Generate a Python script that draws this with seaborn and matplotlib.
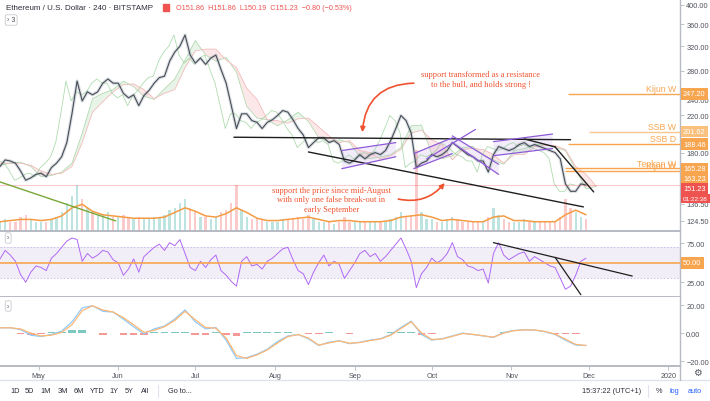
import numpy as np
import pandas as pd
import matplotlib
matplotlib.use('Agg')
import matplotlib.pyplot as plt
import matplotlib.dates as mdates
from matplotlib.ticker import FuncFormatter, NullLocator
from matplotlib.patches import Rectangle
import seaborn as sns

sns.set_theme(style='white')
plt.rcParams['font.family'] = ['Liberation Sans', 'DejaVu Sans']

# ETH/USD 4h (Bitstamp), one point every 2 days
dates = pd.date_range('2019-04-16', '2019-11-30', freq='2D')
close = [167, 173, 172, 170, 163, 155, 157, 160, 161, 158,
         166, 170, 176, 190, 222, 265, 238, 250, 246, 250,
         262, 268, 262, 262, 248, 242, 246, 232, 245, 252,
         262, 270, 272, 295, 310, 320, 340, 305, 292, 300,
         290, 300, 305, 282, 262, 232, 205, 222, 222, 214,
         212, 205, 212, 215, 220, 226, 224, 215, 205, 198,
         185, 190, 195, 195, 190, 192, 188, 172, 170, 173,
         178, 174, 178, 180, 178, 182, 192, 205, 220, 214,
         200, 166, 170, 172, 178, 176, 178, 182, 190, 186,
         182, 178, 176, 172, 172, 162, 178, 186, 184, 182,
         184, 188, 190, 186, 188, 186, 184, 182, 180, 174,
         152, 146, 146, 152, 151]
rsi = [55, 66, 60, 52, 35, 25, 38, 46, 44, 40,
       56, 62, 70, 78, 82, 80, 52, 62, 56, 60,
       66, 64, 54, 50, 34, 42, 55, 38, 58, 64,
       70, 74, 66, 76, 72, 80, 62, 44, 40, 52,
       44, 54, 60, 40, 34, 26, 20, 52, 58, 46,
       48, 42, 52, 56, 62, 68, 70, 54, 40, 36,
       22, 38, 50, 60, 46, 52, 48, 30, 40, 50,
       62, 66, 58, 62, 52, 58, 66, 74, 82, 68,
       52, 18, 36, 44, 56, 50, 54, 62, 76, 58,
       54, 46, 44, 40, 42, 24, 62, 76, 60, 54,
       58, 62, 64, 52, 58, 54, 50, 46, 44, 30,
       16, 20, 34, 52, 56]
volume = [4, 5, 4, 4, 6, 7, 5, 4, 4, 4,
          5, 6, 8, 12, 15, 20, 14, 10, 8, 7,
          7, 8, 6, 6, 7, 6, 5, 6, 5, 5,
          6, 6, 7, 9, 10, 12, 14, 10, 8, 6,
          6, 5, 6, 8, 9, 12, 20, 9, 6, 5,
          5, 5, 4, 4, 4, 5, 5, 5, 6, 5,
          7, 5, 4, 4, 4, 3, 4, 6, 4, 4,
          4, 4, 4, 4, 4, 4, 5, 6, 8, 6,
          7, 35, 8, 5, 5, 4, 4, 5, 6, 5,
          4, 4, 4, 4, 4, 6, 10, 7, 5, 4,
          4, 4, 5, 4, 4, 4, 4, 4, 4, 6,
          14, 10, 8, 6, 5]

# ichimoku cloud, volume MA and MACD - one point every 4 days
dates4 = pd.date_range('2019-04-16', '2019-12-04', freq='4D')
span_a = [168, 170, 171, 167, 158, 159, 162, 170, 200, 241,
          248, 253, 265, 257, 244, 240, 254, 268, 297, 330,
          305, 295, 301, 278, 231, 217, 215, 208, 215, 224,
          213, 195, 191, 193, 190, 176, 174, 176, 178, 185,
          208, 209, 178, 174, 177, 185, 186, 178, 173, 169,
          182, 184, 188, 188, 185, 182, 164, 148, 150]
span_b = [170, 170, 170, 168, 163, 160, 161, 167, 190, 224,
          237, 250, 260, 261, 253, 241, 248, 253, 285, 312,
          315, 315, 297, 285, 255, 240, 215, 214, 211, 216,
          217, 207, 197, 190, 192, 182, 180, 174, 177, 183,
          200, 203, 193, 188, 173, 183, 184, 183, 178, 170,
          178, 178, 186, 187, 187, 183, 167, 160, 150]
vol_ma = [4, 4.5, 5, 5, 4.5, 5, 6.5, 10, 11.5, 8.5,
          7, 6.5, 6, 5.5, 5.5, 5.5, 6, 8, 10, 8.5,
          6.5, 6, 7.5, 10, 8, 5.5, 4.5, 4.5, 5, 5.5,
          6, 5, 4, 4.5, 4.5, 4, 4, 4, 4.5, 6,
          6.5, 7, 6, 4.5, 5, 4.5, 4, 4, 6, 6.5,
          4.5, 4.5, 4, 4, 4, 7, 9, 7]
macd = [3.8, 3.8, 2.5, -1.5, -2.4, -1, 1.5, 8, 18, 19.5,
        15.5, 15, 10, 4.5, -0.5, 3, 5, 10, 16.5, 8,
        3, 4, -5, -18, -17.5, -15, -11.5, -6, -2, -1,
        -4, -8.8, -6.5, -5.5, -7.5, -6.5, -5, -4, -1, 4,
        8.5, -1, -5, -4, -2, 0, -1, -2, -3, 0.5,
        1.9, 2.4, 2.2, 1, -1, -5, -8.5, -8.8]
signal = [3.8, 3.8, 3, 0, -2, -1.5, 0.5, 6, 16, 19.5,
          16.5, 15, 11, 6, 0.5, 2, 4.5, 9, 15.5, 9.5,
          4, 3.5, -3.5, -16, -18, -15.5, -12, -7, -2.5, -1,
          -3.5, -8.5, -7, -5.5, -7.2, -6.7, -5.3, -4.2, -1.5, 3.3,
          8, 0.2, -4.5, -4.2, -2.3, -0.3, -0.9, -1.9, -2.9, 0,
          1.7, 2.3, 2.2, 1.2, -0.7, -4.3, -8, -8.8]

# hand drawn ichimoku levels (weekly / daily)
level_names = ['Kijun W', 'SSB W', 'SSB D', 'Tenkan W', 'Kijun W']
level_values = [247.20, 201.62, 188.46, 165.28, 163.23]
level_from = ['2019-11-23', '2019-12-01', '2019-11-23', '2019-11-22', '2019-11-22']
last_price = 151.23

# black trend lines on price
trend_from = ['2019-07-16', '2019-08-14', '2019-11-06', '2019-11-18']
trend_from_price = [195.6, 180.6, 193.8, 185.6]
trend_to = ['2019-11-24', '2019-11-29', '2019-11-18', '2019-12-03']
trend_to_price = [193.0, 134.2, 185.6, 145.5]

# purple parallel channels
chan_from = ['2019-08-27', '2019-09-24', '2019-10-09', '2019-10-25']
chan_to = ['2019-09-17', '2019-10-09', '2019-10-27', '2019-11-17']
chan_upper = [(182, 190), (179, 195), (197, 169), (191, 199)]
chan_lower = [(165, 176), (165, 179), (190, 160), (177, 184)]

# black trend lines on RSI
rsi_from = ['2019-10-25', '2019-11-18']
rsi_from_val = [76, 57]
rsi_to = ['2019-12-18', '2019-11-28']
rsi_to_val = [33, 9]

ORANGE = '#f7a54f'
RED = '#ef5350'
LINE = '#b7bac3'
TXT = '#50535e'
NOTE = '#f0522f'
W, H = 710, 402


def rect(top, bottom):
    return [0, 1 - bottom / H, 680 / W, (bottom - top) / H]


def dn(s):
    return mdates.date2num(pd.Timestamp(s))


fig = plt.figure(figsize=(7.1, 4.02), dpi=100)
ax = fig.add_axes(rect(0, 232))
ax_vol = ax.twinx()
ax_rsi = fig.add_axes(rect(232, 298), sharex=ax)
ax_macd = fig.add_axes(rect(298, 367), sharex=ax)
ax.set_zorder(ax_vol.get_zorder() + 1)
ax.patch.set_visible(False)

# volume
vol = np.array(volume, dtype=float)
up = np.diff(np.r_[close[0], close]) >= 0
ax_vol.bar(dates[up], vol[up], width=0.9, color='#26a69a', alpha=0.3, lw=0)
ax_vol.bar(dates[~up], vol[~up], width=0.9, color=RED, alpha=0.3, lw=0)
sns.lineplot(x=dates4[:len(vol_ma)], y=vol_ma, ax=ax_vol, color='#f39c45', lw=1.1)
ax_vol.set_ylim(0, 100)
ax_vol.axis('off')

# price + ichimoku
ax.set_yscale('log')
a = np.array(span_a, float)
b = np.array(span_b, float)
ax.fill_between(dates4, a, b, where=a >= b, interpolate=True, color='#a5d6a7', alpha=0.25, lw=0)
ax.fill_between(dates4, a, b, where=a < b, interpolate=True, color='#f4a6a6', alpha=0.25, lw=0)
sns.lineplot(x=dates4, y=span_a, ax=ax, color='#a8d5a8', lw=0.5)
sns.lineplot(x=dates4, y=span_b, ax=ax, color='#f4b0b0', lw=0.5)
sns.lineplot(x=dates - pd.Timedelta(hours=104), y=close, ax=ax, color='#8fcc8f', lw=0.6, alpha=0.7)
sns.lineplot(x=dates, y=close, ax=ax, color='#8a96a3', lw=2.4, alpha=0.3)
sns.lineplot(x=dates, y=close, ax=ax, color='#474d56', lw=0.8)
ax.axhline(last_price, color=RED, lw=0.8, alpha=0.3)

xmax = pd.Timestamp('2020-01-05 14:00')
for name, val, start in zip(level_names, level_values, level_from):
    col = '#f9c68c' if name == 'SSB W' else ORANGE
    ax.hlines(val, pd.Timestamp(start), xmax, color=col, lw=1)
    ax.text(0.994, val * 1.004, name, transform=ax.get_yaxis_transform(), ha='right', va='bottom',
            color=ORANGE, fontsize=6.3)

for d0, p0, d1, p1 in zip(trend_from, trend_from_price, trend_to, trend_to_price):
    ax.plot([dn(d0), dn(d1)], [p0, p1], color='#1e1e1e', lw=1.0)
ax.plot([dn('2019-04-16'), dn('2019-05-31')], [153.6, 124.4], color='#79a83a', lw=1.0)

for d0, d1, (u0, u1), (l0, l1) in zip(chan_from, chan_to, chan_upper, chan_lower):
    xs = [dn(d0), dn(d1), dn(d1), dn(d0)]
    ax.fill(xs, [u0, u1, l1, l0], color='#9c6ade', alpha=0.12, lw=0)
    ax.plot(xs[:2], [u0, u1], color='#8e5bd8', lw=0.9)
    ax.plot(xs[:2], [l0, l1], color='#8e5bd8', lw=0.9)
ax.plot([dn('2019-09-29'), dn('2019-10-18')], [174, 204], color='#8e5bd8', lw=0.9)

ax.text(dn('2019-10-20'), 268, 'support transformed as a resistance\nto the bull, and holds strong !',
        ha='center', va='center', fontsize=6, color=NOTE, family='Liberation Serif', linespacing=1.25)
ax.text(dn('2019-08-23'), 140, 'support the price since mid-August\nwith only one false break-out in\nearly September',
        ha='center', va='center', fontsize=6, color=NOTE, family='Liberation Serif', linespacing=1.25)
ax.annotate('', xy=(dn('2019-09-04'), 201), xytext=(dn('2019-09-24'), 262),
            arrowprops=dict(arrowstyle='-|>', color=NOTE, lw=1.2, mutation_scale=7,
                            connectionstyle='arc3,rad=0.45', shrinkA=0, shrinkB=0))
ax.annotate('', xy=(dn('2019-10-06'), 152.7), xytext=(dn('2019-09-18'), 140),
            arrowprops=dict(arrowstyle='-|>', color=NOTE, lw=1.2, mutation_scale=7,
                            connectionstyle='arc3,rad=0.3', shrinkA=0, shrinkB=0))

ax.set_xlim(pd.Timestamp('2019-04-16'), xmax)
ax.set_ylim(117.8, 413)
ax.yaxis.tick_right()
ax.set_yticks([400, 360, 320, 280, 240, 220, 180, 136.5, 124.5])
ax.yaxis.set_minor_locator(NullLocator())
ax.yaxis.set_major_formatter(FuncFormatter(lambda v, p: f'{v:.2f}'))

# RSI
ax_rsi.axhspan(30, 70, color='#9575cd', alpha=0.12, lw=0)
for lvl in (30, 70):
    ax_rsi.axhline(lvl, color='#c9b8e8', lw=0.6, ls=(0, (2, 2)))
sns.lineplot(x=dates, y=rsi, ax=ax_rsi, color='#b069f5', lw=0.7)
ax_rsi.axhline(50, color=ORANGE, lw=1.2)
for d0, v0, d1, v1 in zip(rsi_from, rsi_from_val, rsi_to, rsi_to_val):
    ax_rsi.plot([dn(d0), dn(d1)], [v0, v1], color='#1e1e1e', lw=0.9)
ax_rsi.set_ylim(6, 91)
ax_rsi.yaxis.tick_right()
ax_rsi.set_yticks([25, 75])
ax_rsi.yaxis.set_major_formatter(FuncFormatter(lambda v, p: f'{v:.2f}'))

# MACD
m = np.array(macd)
s = np.array(signal)
hist = m - s
d4 = dates4[:len(macd)]
ax_macd.bar(d4[hist >= 0], hist[hist >= 0], width=3, color='#26a69a', alpha=0.6, lw=0)
ax_macd.bar(d4[hist < 0], hist[hist < 0], width=3, color=RED, alpha=0.6, lw=0)
sns.lineplot(x=d4, y=macd, ax=ax_macd, color='#90caf9', lw=0.9)
sns.lineplot(x=d4, y=signal, ax=ax_macd, color='#ffb774', lw=0.9)
ax_macd.set_ylim(-23.4, 25.7)
ax_macd.yaxis.tick_right()
ax_macd.set_yticks([20, 0, -20])
ax_macd.yaxis.set_major_formatter(FuncFormatter(lambda v, p: f'{v:.2f}'.replace('-', '\u2212')))

ax_macd.xaxis.set_major_locator(mdates.MonthLocator())
ax_macd.xaxis.set_major_formatter(FuncFormatter(
    lambda v, p: mdates.num2date(v).strftime('%Y' if mdates.num2date(v).month == 1 else '%b')))

for axx in (ax, ax_rsi, ax_macd):
    axx.set_xlabel('')
    axx.set_ylabel('')
    for side in ('top', 'left'):
        axx.spines[side].set_visible(False)
    axx.spines['right'].set_color(LINE)
    axx.spines['right'].set_linewidth(1)
    axx.spines['bottom'].set_color(LINE)
    axx.spines['bottom'].set_linewidth(1.4)
    axx.tick_params(axis='y', length=3, width=0.6, color=LINE, labelsize=5.3, labelcolor=TXT, pad=1.5)
    axx.grid(False)
for axx in (ax, ax_rsi):
    axx.tick_params(axis='x', bottom=False, labelbottom=False)
ax_macd.tick_params(axis='x', bottom=True, length=3, width=0.6, color=LINE, labelsize=5.2,
                    labelcolor=TXT, pad=1.5)

# price tags on the right scale
tags = [(v, f'{v:.2f}', '#f9c07e' if n == 'SSB W' else ORANGE) for n, v in zip(level_names, level_values)]
tags.append((last_price, f'{last_price:.2f}', RED))
ys = []
for v, t, c in sorted(tags, key=lambda r: -r[0]):
    y = ax.transData.transform((0, v))[1]
    if ys and y > ys[-1][0] - 10:
        y = ys[-1][0] - 10
    ys.append((y, t, c, 5.3))
ys.append((ys[-1][0] - 10, '01:22:38', RED, 4.6))
y50 = ax_rsi.transData.transform((0, 50))[1]
ys.append((y50, '50.00', ORANGE, 5.3))
for y, t, c, fs in ys:
    fig.text(683 / W, y / H, t, fontsize=fs, color='white', va='center', ha='left',
             bbox=dict(boxstyle='square,pad=0.3', fc=c, ec='none'))

# header
fig.text(6 / W, 1 - 9 / H, 'Ethereum / U.S. Dollar \u00b7 240 \u00b7 BITSTAMP', fontsize=5.8,
         color='#2a2e39', va='center')
fig.add_artist(Rectangle((163 / W, 1 - 12 / H), 6 / W, 7 / H, transform=fig.transFigure, color=RED))
fig.text(176 / W, 1 - 9 / H, 'O151.86  H151.86  L150.19  C151.23  \u22120.80 (\u22120.53%)', fontsize=5.2,
         color=RED, va='center')
box_kw = dict(boxstyle='round,pad=0.25', fc='white', ec='#c8cad0', lw=0.6)
fig.text(7 / W, 1 - 21 / H, '\u203a 3', fontsize=5, color=TXT, va='center', bbox=box_kw)
fig.text(7 / W, 1 - 239 / H, '\u203a', fontsize=5, color=TXT, va='center', bbox=box_kw)
fig.text(7 / W, 1 - 307 / H, '\u203a', fontsize=5, color=TXT, va='center', bbox=box_kw)

# bottom toolbar
fig.add_artist(plt.Line2D([0, 1], [1 - 381 / H] * 2, transform=fig.transFigure, color='#e0e3eb', lw=1))
fig.add_artist(plt.Line2D([680 / W] * 2, [1 - 381 / H, 1 - 367 / H], transform=fig.transFigure,
                          color=LINE, lw=1))
fig.text(697 / W, 1 - 373 / H, '\u2699', fontsize=7, color=TXT, ha='center', va='center',
         family='DejaVu Sans')
ty = 1 - 392 / H
for lab, x in zip(['1D', '5D', '1M', '3M', '6M', 'YTD', '1Y', '5Y', 'All'],
                  [10, 25, 40, 58, 74, 90, 109, 125, 141]):
    fig.text(x / W, ty, lab, fontsize=5.3, color='#2a2e39', va='center')
fig.text(168 / W, ty, 'Go to...', fontsize=5.3, color='#2a2e39', va='center')
fig.text(582 / W, ty, '15:37:22 (UTC+1)', fontsize=5.3, color='#2a2e39', va='center')
fig.text(656 / W, ty, '%', fontsize=5.3, color='#2a2e39', va='center')
fig.text(670 / W, ty, 'log', fontsize=5.3, color='#2962ff', va='center')
fig.text(688 / W, ty, 'auto', fontsize=5.3, color='#2962ff', va='center')
for x in (158, 648):
    fig.add_artist(plt.Line2D([x / W] * 2, [1 - 398 / H, 1 - 386 / H], transform=fig.transFigure,
                              color='#e0e3eb', lw=0.8))

fig.savefig('out.png', dpi=100)
